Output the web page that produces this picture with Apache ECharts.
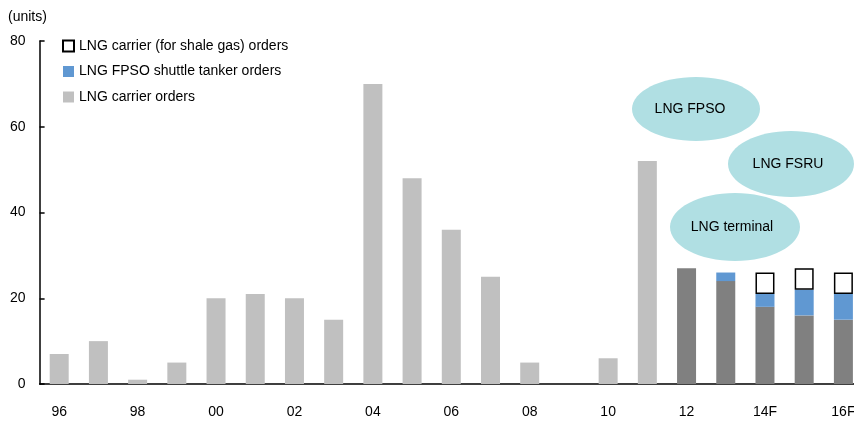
<!DOCTYPE html>
<html>
<head>
<meta charset="utf-8">
<script src="https://cdn.jsdelivr.net/npm/echarts@6/dist/echarts.min.js"></script>
<style>html,body{margin:0;padding:0;background:#fff}#c{width:854px;height:421px}</style>
</head>
<body>
<div id="c"></div>
<script>
const categories = ['96','97','98','99','00','01','02','03','04','05','06','07','08','09','10','11','12','13','14F','15F','16F'];
const carrierOrders = [7,10,1,5,20,21,20,15,70,48,36,25,5,0,6,52,27,24,18,16,15];
const fpsoOrders = [null,null,null,null,null,null,null,null,null,null,null,null,null,null,null,null,null,2,3,6,6];
const shaleOrders = [null,null,null,null,null,null,null,null,null,null,null,null,null,null,null,null,null,null,5,5,5];
const darkYears = ['12','13','14F','15F','16F'];
const yTicks = [0,20,40,60,80];

const FONT = "'Liberation Sans',Arial,sans-serif";
const FS = 14;
const chart = echarts.init(document.getElementById('c'), null, {renderer:'canvas'});
chart.setOption({
  animation:false,
  backgroundColor:'#fff',
  textStyle:{fontFamily:FONT},
  grid:{left:39.6,right:-9,top:41,bottom:37,containLabel:false,outerBoundsMode:'none'},
  legend:{
    orient:'vertical', left:62, top:39, padding:0, itemGap:11.5,
    itemWidth:11, itemHeight:11, icon:'rect',
    textStyle:{fontSize:FS,color:'#000',fontFamily:FONT},
    data:['LNG carrier (for shale gas) orders','LNG FPSO shuttle tanker orders','LNG carrier orders']
  },
  xAxis:{
    type:'category', data:categories,
    axisLine:{lineStyle:{color:'#000',width:1.5}},
    axisTick:{inside:true,length:5,interval:1,lineStyle:{color:'#000',width:1.5}},
    axisLabel:{interval:1,margin:21,fontSize:FS,color:'#000',fontFamily:FONT}
  },
  yAxis:{
    type:'value', min:yTicks[0], max:yTicks[yTicks.length-1], interval:20,
    splitLine:{show:false},
    axisLine:{show:true,lineStyle:{color:'#000',width:1.5}},
    axisTick:{show:true,inside:true,length:5,lineStyle:{color:'#000',width:1.5}},
    axisLabel:{margin:14,fontSize:FS,color:'#000',fontFamily:FONT}
  },
  series:[
    {name:'LNG carrier orders',type:'bar',stack:'t',barWidth:19,
     itemStyle:{color:'#c0c0c0'},
     data:carrierOrders.map((v,i)=>darkYears.includes(categories[i])?{value:v,itemStyle:{color:'#808080'}}:v)},
    {name:'LNG FPSO shuttle tanker orders',type:'bar',stack:'t',barWidth:19,
     itemStyle:{color:'#6098d2'},data:fpsoOrders},
    {name:'LNG carrier (for shale gas) orders',type:'bar',stack:'t',barWidth:19,
     itemStyle:{color:'#fff',borderColor:'#000',borderWidth:1.5},data:shaleOrders}
  ],
  graphic:[
    {type:'text',x:8,y:17,style:{text:'(units)',fontSize:FS,fontFamily:FONT,fill:'#000',align:'left',verticalAlign:'middle'}},
    {type:'ellipse',shape:{cx:696,cy:109,rx:64,ry:32},style:{fill:'#b0dfe3'},z:10},
    {type:'text',x:690,y:109,style:{text:'LNG FPSO',fontSize:FS,fontFamily:FONT,fill:'#000',align:'center',verticalAlign:'middle'},z:11},
    {type:'ellipse',shape:{cx:791,cy:164,rx:63,ry:33},style:{fill:'#b0dfe3'},z:10},
    {type:'text',x:788,y:164,style:{text:'LNG FSRU',fontSize:FS,fontFamily:FONT,fill:'#000',align:'center',verticalAlign:'middle'},z:11},
    {type:'ellipse',shape:{cx:735,cy:227,rx:65,ry:34},style:{fill:'#b0dfe3'},z:10},
    {type:'text',x:732,y:227,style:{text:'LNG terminal',fontSize:FS,fontFamily:FONT,fill:'#000',align:'center',verticalAlign:'middle'},z:11}
  ]
});
</script>
</body>
</html>
